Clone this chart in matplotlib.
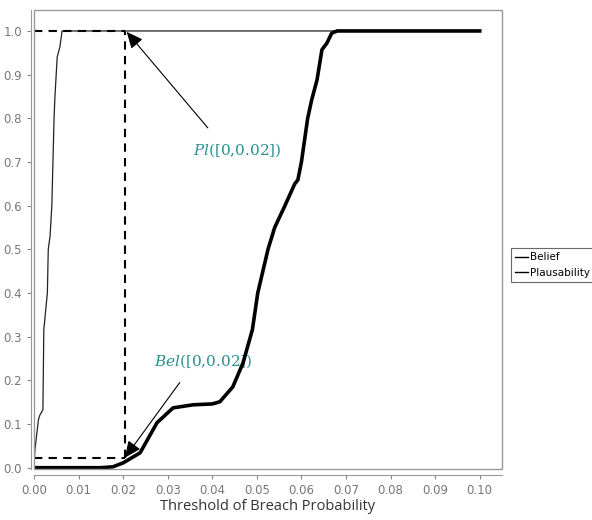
import matplotlib
matplotlib.use("Agg")
import matplotlib.pyplot as plt
from matplotlib.patches import Rectangle

plt.rcParams["mathtext.fontset"] = "dejavuserif"

# Belief curve (thick)
bel_x = [0.0, 0.005, 0.015, 0.0177, 0.020, 0.0238, 0.0276, 0.0312, 0.0357, 0.0400, 0.0417,
         0.0446, 0.0469, 0.0490, 0.0502, 0.0525, 0.0540, 0.0563, 0.0585, 0.0592, 0.0600,
         0.0614, 0.0623, 0.0635, 0.0646, 0.0657, 0.0668, 0.0680, 0.100]
bel_y = [0.0, 0.0, 0.0, 0.002, 0.011, 0.034, 0.103, 0.137, 0.144, 0.146, 0.151,
         0.185, 0.240, 0.316, 0.400, 0.500, 0.550, 0.600, 0.650, 0.659, 0.700,
         0.800, 0.842, 0.888, 0.957, 0.972, 0.995, 1.0, 1.0]

# Plausibility curve (thin)
pl_x = [0.0, 0.0002, 0.0010, 0.0013, 0.0020, 0.0022, 0.0030, 0.0032, 0.0036, 0.0040,
        0.0045, 0.0047, 0.0052, 0.0058, 0.0063, 0.100]
pl_y = [0.0, 0.04, 0.11, 0.12, 0.133, 0.316, 0.40, 0.50, 0.53, 0.60,
        0.80, 0.85, 0.94, 0.963, 1.0, 1.0]

x_ticks = [0.00, 0.01, 0.02, 0.03, 0.04, 0.05, 0.06, 0.07, 0.08, 0.09, 0.10]
x_tick_labels = ["0.00", "0.01", "0.02", "0.03", "0.04", "0.05", "0.06", "0.07", "0.08", "0.09", "0.10"]
y_ticks = [0.0, 0.1, 0.2, 0.3, 0.4, 0.5, 0.6, 0.7, 0.8, 0.9, 1.0]
y_tick_labels = ["0.0", "0.1", "0.2", "0.3", "0.4", "0.5", "0.6", "0.7", "0.8", "0.9", "1.0"]

threshold = 0.0205
bel_at = 0.022
pl_at = 1.0

teal = "#2a8f8f"

fig = plt.figure(figsize=(5.92, 5.2), dpi=100)
ax = fig.add_axes([34/592, 1 - 469/520, (502 - 34)/592, (469 - 10)/520])

ax.plot(pl_x, pl_y, color="#222222", lw=0.9, label="Plausability", zorder=3)
ax.plot(bel_x, bel_y, color="black", lw=2.6, label="Belief", zorder=4)

# dashed guide lines
ax.plot([0, threshold], [bel_at, bel_at], ls=(0, (4, 3)), color="black", lw=1.5, zorder=5)
ax.plot([0, threshold], [pl_at, pl_at], ls=(0, (4, 3)), color="black", lw=1.5, zorder=5)
ax.plot([threshold, threshold], [bel_at, pl_at], ls=(0, (4, 3)), color="black", lw=1.5, zorder=5)

# annotations
ax.annotate("", xy=(0.0208, 0.998), xytext=(0.039, 0.778),
            arrowprops=dict(arrowstyle="-|>,head_length=1.0,head_width=0.45", color="black", lw=0.8,
                            shrinkA=0, shrinkB=0), zorder=6)
ax.text(0.0455, 0.728, r"$Pl$([0,0.02])", color=teal, fontsize=11, ha="center", va="center",
        family="DejaVu Serif")
ax.annotate("", xy=(0.0204, 0.023), xytext=(0.0327, 0.195),
            arrowprops=dict(arrowstyle="-|>,head_length=1.0,head_width=0.45", color="black", lw=0.8,
                            shrinkA=0, shrinkB=0), zorder=6)
ax.text(0.0379, 0.243, r"$Bel$([0,0.02])", color=teal, fontsize=11, ha="center", va="center",
        family="DejaVu Serif")

ax.set_xlim(0.0, 0.105)
ax.set_ylim(-0.003, 1.048)
ax.set_xticks(x_ticks)
ax.set_xticklabels(x_tick_labels)
ax.set_yticks(y_ticks)
ax.set_yticklabels(y_tick_labels)

ax.tick_params(axis="both", colors="#888888", labelcolor="#777777", labelsize=8.5, length=3, direction="out")
for s in ["top", "right"]:
    ax.spines[s].set_visible(False)
ax.spines["bottom"].set_position(("outward", 4))
ax.spines["left"].set_position(("outward", 2))
for s in ["bottom", "left"]:
    ax.spines[s].set_color("#999999")
ax.add_patch(Rectangle((0, 0), 1, 1, transform=ax.transAxes, fill=False,
                       edgecolor="#999999", lw=1.0, zorder=10, clip_on=False))

ax.set_xlabel("Threshold of Breach Probability", fontsize=10.5, color="#333333", family="Open Sans",
              labelpad=2)

handles, labels = ax.get_legend_handles_labels()
order = [1, 0]
leg = fig.legend([handles[i] for i in order], [labels[i] for i in order],
                 loc="center left", bbox_to_anchor=(511/592, 1 - 265/520),
                 fontsize=7.5, frameon=True, fancybox=False, handlelength=1.2,
                 handletextpad=0.2, borderpad=0.4, labelspacing=0.5, borderaxespad=0)
leg.get_frame().set_edgecolor("#444444")
leg.get_frame().set_linewidth(0.8)
for h in leg.get_lines():
    h.set_linewidth(1.0)
    h.set_color("black")

fig.savefig("out.png", dpi=100)
